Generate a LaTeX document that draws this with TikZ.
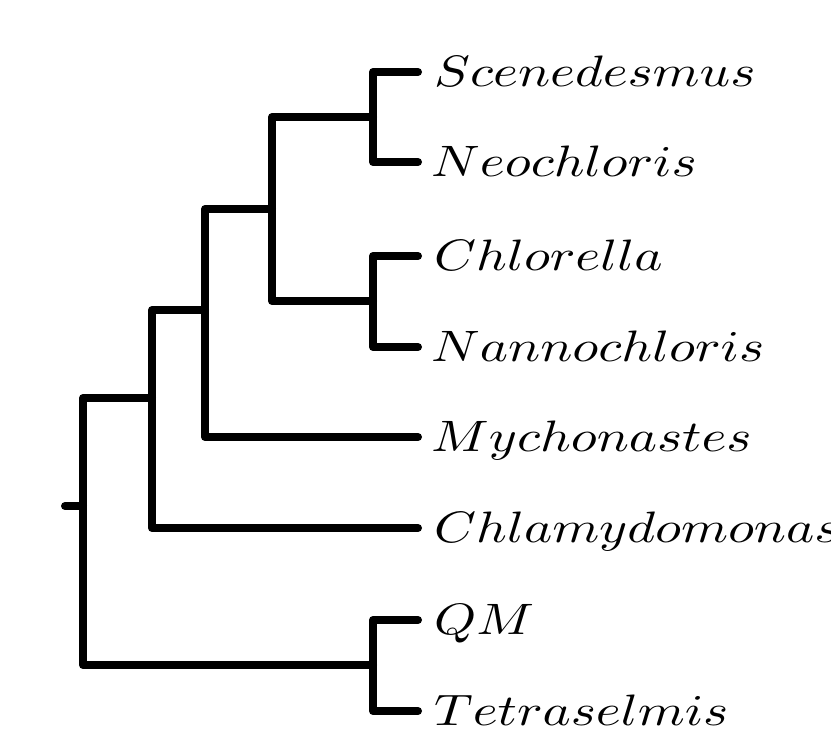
\documentclass[tikz,border=0pt]{standalone}
\usepackage{graphicx}
\begin{document}
\begin{tikzpicture}[x=1pt,y=-1pt,
  branch/.style={line width=8pt,line cap=round,line join=round},
  taxon/.style={anchor=base west,inner sep=0pt}]
\useasboundingbox (0,0) rectangle (831,745);
\newcommand{\tx}[1]{\scalebox{5.35}[4.4]{$#1$}}
% leaf tips
\coordinate (t1) at (418,72);
\coordinate (t2) at (418,162);
\coordinate (t3) at (418,256);
\coordinate (t4) at (418,347);
\coordinate (t5) at (418,437);
\coordinate (t6) at (418,528);
\coordinate (t7) at (418,620);
\coordinate (t8) at (418,711);
% internal nodes
\coordinate (n1) at (373,117);
\coordinate (n2) at (373,301);
\coordinate (n3) at (272,209);
\coordinate (n4) at (205,310);
\coordinate (n5) at (152,398);
\coordinate (n6) at (373,665);
\coordinate (root) at (83,506);
\coordinate (stub) at (65,506);
% labels
\node[taxon] (l1) at (434,86) {\tx{Scenedesmus}};
\node[taxon] (l2) at (431,176) {\tx{Neochloris}};
\node[taxon] (l3) at (434,270) {\tx{Chlorella}};
\node[taxon] (l4) at (431,361) {\tx{Nannochloris}};
\node[taxon] (l5) at (431,451) {\tx{Mychonastes}};
\node[taxon] (l6) at (434,542) {\tx{Chlamydomonas}};
\node[taxon] (l7) at (434,634) {\tx{QM}};
\node[taxon] (l8) at (434,725) {\tx{Tetraselmis}};
% branches
\draw[branch] (t1) -| (n1) |- (t2);
\draw[branch] (t3) -| (n2) |- (t4);
\draw[branch] (t7) -| (n6) |- (t8);
\draw[branch] (n1) -| (n3) |- (n2);
\draw[branch] (n3) -| (n4) |- (t5);
\draw[branch] (n4) -| (n5) |- (t6);
\draw[branch] (n5) -| (root) |- (n6);
\draw[branch] (stub) -- (root);
\end{tikzpicture}
\end{document}
